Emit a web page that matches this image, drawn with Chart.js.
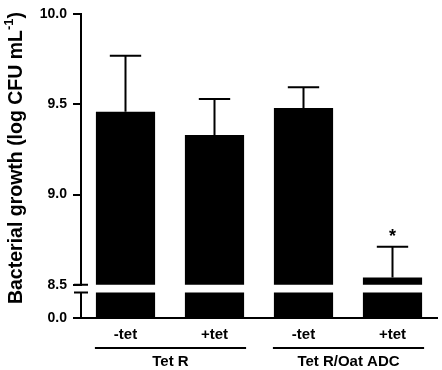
<!DOCTYPE html>
<html>
<head>
<meta charset="utf-8">
<script src="https://cdn.jsdelivr.net/npm/chart.js@4"></script>
<style>
  html, body { margin: 0; padding: 0; background: #fff; }
</style>
</head>
<body>
<canvas id="growth_chart" width="442" height="370"></canvas>
<script>
// values
const conditions = ['-tet', '+tet', '-tet', '+tet']
const groups = ['Tet R', 'Tet R/Oat ADC']
const groupMembers = [[0, 1], [2, 3]]
const growth = [9.46, 9.33, 9.48, 8.54]
const growthSd = [0.31, 0.20, 0.115, 0.17]
const marks = ['', '', '', '*']
const upperTicks = [8.5, 9.0, 9.5, 10.0]
const lowerTicks = [0.0]
const breakAt = 8.5

const FONT = 'Arial, "Liberation Sans", sans-serif'

// broken axis: a short segment for 0 sits below the break,
// above it the axis runs linearly from breakAt upward
const lowerSpan = 0.185   // axis units taken by the lower segment
const stubTop = 0.141     // where the lower segment of each bar ends

const toAxis = (v) => v >= breakAt ? v - breakAt + lowerSpan : 0
const tickMap = [
  ...lowerTicks.map(v => ({ value: 0, label: v.toFixed(1) })),
  ...upperTicks.map(v => ({ value: toAxis(v), label: v.toFixed(1) })),
]

const extras = {
  id: 'extras',
  afterDraw(chart) {
    const ctx = chart.ctx
    const y = chart.scales.y
    const area = chart.chartArea
    const bars = chart.getDatasetMeta(1).data

    ctx.save()
    ctx.strokeStyle = '#000'
    ctx.fillStyle = '#000'
    ctx.lineWidth = 2

    // error bars (upper side only) + significance marks
    bars.forEach((bar, i) => {
      const yv = y.getPixelForValue(toAxis(growth[i]))
      const ye = y.getPixelForValue(toAxis(growth[i] + growthSd[i]))
      const half = bar.width * 0.265
      ctx.beginPath()
      ctx.moveTo(bar.x, yv)
      ctx.lineTo(bar.x, ye)
      ctx.moveTo(bar.x - half, ye)
      ctx.lineTo(bar.x + half, ye)
      ctx.stroke()
      if (marks[i]) {
        ctx.font = 'bold 18px ' + FONT
        ctx.textAlign = 'center'
        ctx.textBaseline = 'alphabetic'
        ctx.fillText(marks[i], bar.x, ye - 5)
      }
    })

    // y axis with break
    const ax = Math.round(area.left)
    const yMax = y.getPixelForValue(toAxis(upperTicks[upperTicks.length - 1]))
    const yBrk = y.getPixelForValue(toAxis(breakAt))
    const yStub = y.getPixelForValue(stubTop)
    const yZero = y.getPixelForValue(0)
    ctx.beginPath()
    ctx.moveTo(ax, yMax - 1)
    ctx.lineTo(ax, yBrk)
    ctx.moveTo(ax - 7, yBrk)
    ctx.lineTo(ax + 7, yBrk)
    ctx.moveTo(ax - 7, yStub)
    ctx.lineTo(ax + 7, yStub)
    ctx.moveTo(ax, yStub)
    ctx.lineTo(ax, yZero)
    ctx.stroke()

    // tick marks, pointing left
    for (const t of tickMap) {
      const py = Math.round(y.getPixelForValue(t.value))
      ctx.fillRect(ax - 8, py - 1, 9, 2)
    }

    // group lines and labels
    const lineY = 348
    groupMembers.forEach((m, g) => {
      const b0 = bars[m[0]], b1 = bars[m[m.length - 1]]
      const x0 = b0.x - b0.width / 2 - 1
      const x1 = b1.x + b1.width / 2 + 2
      ctx.beginPath()
      ctx.moveTo(x0, lineY)
      ctx.lineTo(x1, lineY)
      ctx.stroke()
      ctx.font = 'bold 15px ' + FONT
      ctx.textAlign = 'center'
      ctx.textBaseline = 'middle'
      ctx.fillText(groups[g], (x0 + x1) / 2, 362)
    })

    // y title with superscript
    const mainTxt = 'Bacterial growth (log CFU mL'
    const supTxt = '-1'
    const endTxt = ')'
    ctx.font = 'bold 19.5px ' + FONT
    const w1 = ctx.measureText(mainTxt).width
    const w3 = ctx.measureText(endTxt).width
    ctx.font = 'bold 13px ' + FONT
    const w2 = ctx.measureText(supTxt).width
    const total = w1 + w2 + w3
    ctx.translate(22, 158)
    ctx.rotate(-Math.PI / 2)
    ctx.textAlign = 'left'
    ctx.textBaseline = 'alphabetic'
    ctx.font = 'bold 19.5px ' + FONT
    ctx.fillText(mainTxt, -total / 2, 0)
    ctx.font = 'bold 13px ' + FONT
    ctx.fillText(supTxt, -total / 2 + w1, -9)
    ctx.font = 'bold 19.5px ' + FONT
    ctx.fillText(endTxt, -total / 2 + w1 + w2, 0)
    ctx.restore()
  }
}

let chartEle = document.getElementById('growth_chart').getContext('2d')

let chart = new Chart(chartEle, {
  type: 'bar',
  data: {
    labels: conditions,
    datasets: [
      {
        // lower segment of each bar, below the axis break
        data: growth.map(() => [0, stubTop]),
        backgroundColor: '#000',
        grouped: false,
        barPercentage: 0.665,
        categoryPercentage: 1,
      },
      {
        data: growth.map(v => [toAxis(breakAt), toAxis(v)]),
        backgroundColor: '#000',
        grouped: false,
        barPercentage: 0.665,
        categoryPercentage: 1,
      },
    ],
  },
  options: {
    responsive: false,
    animation: false,
    devicePixelRatio: 1,
    layout: { padding: { top: 8, right: 5, left: 0, bottom: 0 } },
    plugins: {
      legend: { display: false },
      tooltip: { enabled: false },
    },
    scales: {
      x: {
        offset: true,
        grid: { display: false, drawTicks: false },
        border: { display: true, color: '#000', width: 2 },
        ticks: {
          color: '#000',
          padding: 8,
          font: { family: FONT, size: 15, weight: 'bold' },
        },
        afterFit: (s) => { s.height = 52 },
      },
      y: {
        type: 'linear',
        min: 0,
        max: toAxis(upperTicks[upperTicks.length - 1]),
        border: { display: false },
        grid: { display: false, drawTicks: true, tickLength: 8 },
        afterBuildTicks: (s) => { s.ticks = tickMap.map(t => ({ value: t.value })) },
        ticks: {
          color: '#000',
          padding: 6,
          font: { family: FONT, size: 14, weight: 'bold' },
          callback: (v, i) => tickMap[i] ? tickMap[i].label : '',
        },
        afterFit: (s) => { s.width = 81 },
      },
    },
  },
  plugins: [extras],
})
</script>
</body>
</html>
